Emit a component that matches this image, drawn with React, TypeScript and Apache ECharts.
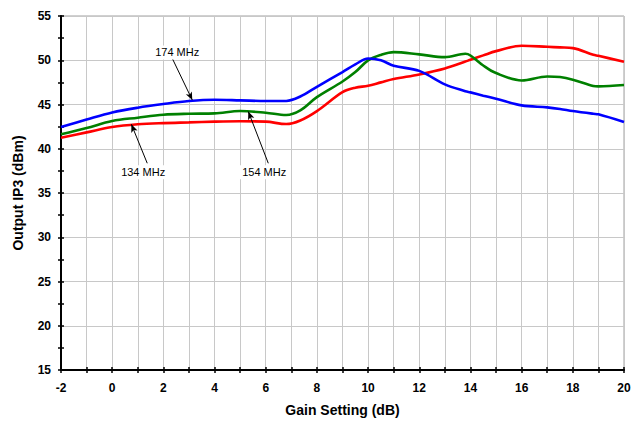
import React, { useEffect, useRef } from "react";
import * as echarts from "echarts";

const gain = [-2, -1, 0, 1, 2, 3, 4, 5, 6, 6.8, 7.35, 8, 9, 9.5, 10, 10.5, 11, 12, 13, 13.8, 14, 14.5, 15, 16, 17, 17.5, 18, 18.8, 19, 20];
const ip3_174 = [42.45, 43.3, 44.1, 44.64, 45.05, 45.39, 45.54, 45.47, 45.39, 45.4, 45.9, 47.0, 48.66, 49.53, 50.2, 50.0, 49.38, 48.8, 47.27, 46.5, 46.37, 46.0, 45.65, 44.9, 44.68, 44.5, 44.26, 43.95, 43.89, 43.02];
const ip3_154 = [41.63, 42.34, 43.13, 43.51, 43.85, 43.96, 44.0, 44.26, 44.07, 43.81, 44.33, 45.84, 47.6, 48.66, 49.98, 50.6, 50.92, 50.66, 50.35, 50.73, 50.54, 49.41, 48.55, 47.72, 48.17, 48.1, 47.8, 47.1, 47.05, 47.2];
const ip3_134 = [41.25, 41.85, 42.45, 42.76, 42.9, 42.98, 43.06, 43.1, 43.06, 42.79, 43.2, 44.26, 46.4, 46.9, 47.12, 47.5, 47.87, 48.4, 49.08, 49.85, 50.06, 50.55, 51.03, 51.64, 51.52, 51.45, 51.37, 50.62, 50.5, 49.83];

const labels = ["174 MHz", "154 MHz", "134 MHz"];
const colors = ["#0000ff", "#008000", "#ff0000"];
// annotation: [labelX, labelY, arrowStartX, arrowStartY, arrowEndX, arrowEndY]
const notes = [
  [2.54, 50.88, 2.35, 50.2, 3.13, 45.5],
  [5.94, 37.34, 6.1, 38.36, 5.32, 44.2],
  [1.21, 37.34, 1.37, 38.36, 0.75, 42.76],
];

const FONT = "Arial, 'Liberation Sans', sans-serif";

export default function App() {
  const ref = useRef<HTMLDivElement>(null);
  useEffect(() => {
    const chart = echarts.init(ref.current!, null, { renderer: "svg" });
    const seriesData = [ip3_174, ip3_154, ip3_134];
    const series: any[] = seriesData.map((vals, i) => {
      const n = notes[i];
      return {
        type: "line",
        name: labels[i],
        data: gain.map((g, k) => [g, vals[k]]),
        smooth: 0.35,
        showSymbol: false,
        symbol: "none",
        lineStyle: { color: colors[i], width: 2.6 },
        z: 3 - i,
        markLine: {
          silent: true,
          animation: false,
          label: { show: false },
          symbol: ["none", "arrow"],
          symbolSize: [5, 8],
          lineStyle: { color: "#000", width: 1, type: "solid" },
          data: [[{ coord: [n[2], n[3]] }, { coord: [n[4], n[5]] }]],
        },
        markPoint: {
          silent: true,
          animation: false,
          data: [
            {
              coord: [n[0], n[1]],
              symbol: "rect",
              symbolSize: [50, 14],
              itemStyle: { color: "#ffffff" },
              label: {
                show: true,
                position: "inside",
                formatter: labels[i],
                color: "#000",
                fontSize: 11,
                fontFamily: FONT,
              },
            },
          ],
        },
      };
    });
    chart.setOption({
      animation: false,
      backgroundColor: "#ffffff",
      grid: {
        left: 61,
        right: 14,
        top: 16,
        bottom: 54,
        show: true,
        borderColor: "#a0a0a0",
        borderWidth: 1,
      },
      xAxis: [
        {
          type: "value",
          min: -2,
          max: 20,
          interval: 1,
          name: "Gain Setting (dB)",
          nameLocation: "middle",
          nameGap: 33,
          nameTextStyle: { fontFamily: FONT, fontWeight: "bold", fontSize: 14, color: "#000" },
          axisLine: { show: true, onZero: false, lineStyle: { color: "#000", width: 2 } },
          axisTick: { show: true, length: 3, lineStyle: { color: "#000", width: 1.5 } },
          axisLabel: {
            margin: 12,
            fontFamily: FONT,
            fontWeight: "bold",
            fontSize: 12,
            color: "#000",
            formatter: (v: number) => (Math.round(v) % 2 === 0 ? String(v) : ""),
          },
          splitLine: { show: true, lineStyle: { color: "#c8c8c8", width: 1 } },
        },
        {
          type: "value",
          min: -2,
          max: 20,
          interval: 1,
          position: "bottom",
          axisLine: { show: false, onZero: false },
          axisTick: { show: true, inside: true, length: 3, lineStyle: { color: "#000", width: 1.5 } },
          axisLabel: { show: false },
          splitLine: { show: false },
        },
      ],
      yAxis: [
        {
          type: "value",
          min: 15,
          max: 55,
          interval: 5,
          name: "Output IP3 (dBm)",
          nameLocation: "middle",
          nameGap: 36,
          nameTextStyle: { fontFamily: FONT, fontWeight: "bold", fontSize: 14, color: "#000" },
          axisLine: { show: true, onZero: false, lineStyle: { color: "#000", width: 2 } },
          axisTick: { show: true, length: 3, lineStyle: { color: "#000", width: 1.5 } },
          minorTick: { show: true, splitNumber: 2, length: 3, lineStyle: { color: "#000", width: 1.5 } },
          axisLabel: { margin: 10, fontFamily: FONT, fontWeight: "bold", fontSize: 12, color: "#000" },
          splitLine: { show: true, lineStyle: { color: "#c8c8c8", width: 1 } },
        },
        {
          type: "value",
          min: 15,
          max: 55,
          interval: 5,
          position: "left",
          axisLine: { show: false, onZero: false },
          axisTick: { show: true, inside: true, length: 3, lineStyle: { color: "#000", width: 1.5 } },
          minorTick: { show: true, splitNumber: 2, length: 3, lineStyle: { color: "#000", width: 1.5 } },
          axisLabel: { show: false },
          splitLine: { show: false },
        },
      ],
      series,
    });
    return () => chart.dispose();
  }, []);
  return (
    <div
      ref={ref}
      style={{ position: "absolute", left: 0, top: 0, width: 638, height: 424 }}
    />
  );
}
